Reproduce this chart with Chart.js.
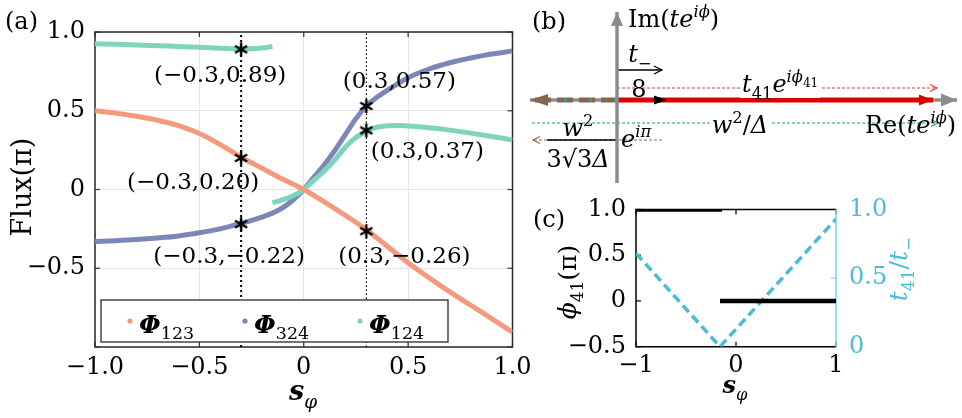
<!DOCTYPE html>
<html>
<head>
<meta charset="utf-8">
<script src="https://cdn.jsdelivr.net/npm/chart.js@4.4.1/dist/chart.umd.min.js"></script>
<style>
html, body { margin: 0; padding: 0; background: #fff; }
#wrap { position: relative; width: 962px; height: 418px; overflow: hidden; background: #fff; }
canvas { position: absolute; }
</style>
</head>
<body>
<div id="wrap">
  <canvas id="chartA" width="545" height="418" style="left:0;top:0"></canvas>
  <canvas id="chartB" width="442" height="190" style="left:520px;top:0"></canvas>
  <canvas id="chartC" width="437" height="228" style="left:525px;top:190px"></canvas>
</div>
<script>
const FONT = '"DejaVu Serif", serif';

// ---- panel (a): fluxes vs s_phi ----
const sGrid = [-1.0, -0.9, -0.8, -0.7, -0.6, -0.5, -0.4, -0.3, -0.2, -0.1, 0, 0.1, 0.2, 0.3, 0.4, 0.5, 0.6, 0.7, 0.8, 0.9, 1.0];
const phi123 = [0.50, 0.485, 0.465, 0.44, 0.405, 0.355, 0.285, 0.205, 0.135, 0.065, 0, -0.08, -0.165, -0.255, -0.36, -0.465, -0.56, -0.65, -0.735, -0.82, -0.905];
const sPhi324 = [-1.0, -0.9, -0.8, -0.7, -0.6, -0.5, -0.4, -0.3, -0.2, -0.15, -0.1, -0.05, 0, 0.05, 0.1, 0.15, 0.2, 0.25, 0.3, 0.35, 0.4, 0.5, 0.6, 0.7, 0.8, 0.9, 1.0];
const phi324 = [-0.33, -0.325, -0.318, -0.308, -0.295, -0.275, -0.25, -0.215, -0.175, -0.15, -0.115, -0.065, 0, 0.08, 0.16, 0.25, 0.35, 0.45, 0.53, 0.585, 0.63, 0.71, 0.765, 0.805, 0.835, 0.86, 0.88];
const sPhi124a = [-1.0, -0.9, -0.8, -0.7, -0.6, -0.5, -0.4, -0.3, -0.2, -0.15];
const phi124a = [0.925, 0.922, 0.918, 0.913, 0.908, 0.903, 0.897, 0.892, 0.898, 0.908];
const sPhi124b = [-0.15, -0.1, -0.05, 0, 0.05, 0.1, 0.15, 0.2, 0.25, 0.3, 0.35, 0.4, 0.45, 0.5, 0.6, 0.7, 0.8, 0.9, 1.0];
const phi124b = [-0.085, -0.065, -0.04, 0, 0.06, 0.12, 0.19, 0.27, 0.33, 0.37, 0.395, 0.405, 0.407, 0.403, 0.392, 0.377, 0.358, 0.337, 0.315];
const markS = [-0.3, -0.3, -0.3, 0.3, 0.3, 0.3];
const markV = [0.89, 0.20, -0.22, 0.53, 0.375, -0.265];
const markText = ['(−0.3,0.89)', '(−0.3,0.20)', '(−0.3,−0.22)', '(0.3,0.57)', '(0.3,0.37)', '(0.3,−0.26)'];
const cutS = [-0.3, 0.3];
const xTicksA = [-1, -0.5, 0, 0.5, 1];
const yTicksA = [-1, -0.5, 0, 0.5, 1];
const legendSubs = ['123', '324', '124'];

// ---- panel (c): phi_41 and t_41/t_- ----
const sPhi41a = [-1, -0.14];
const phi41a = [1, 1];
const sPhi41b = [-0.16, 1];
const phi41b = [0, 0];
const sRatio = [-1, -0.16, 1];
const ratio = [0.68, 0, 0.93];
const xTicksC = [-1, 0, 1];
const yTicksC = [-0.5, 0, 0.5, 1];
const y2TicksC = [0, 0.5, 1];

// ---- panel (b): complex-plane vectors [x, y] ----
const axisIm = [[0, -0.83], [0, 0.88]];
const axisRe = [[-0.87, 0], [3.40, 0]];
const vecNeg = [[0, 0], [-0.87, 0]];
const vecT41 = [[0, 0], [3.16, 0]];
const vecT8 = [[0, 0], [0.50, 0]];
const barT8 = [[0, 0.30], [0.45, 0.30]];
const vecT41Dot = [[0, 0.12], [3.20, 0.12]];
const vecW2 = [[-0.85, -0.23], [3.21, -0.23]];
const vecEpi = [[0.45, -0.40], [-0.84, -0.40]];
const barW2 = [[-0.70, -0.40], [0, -0.40]];

const ORANGE = '#f39a7c', BLUE = '#7c87b9', GREEN = '#80d3bd', CYAN = '#4bbcd6', CYAN_AX = '#7fd3e4';

const pts = (xs, ys) => xs.map((x, i) => ({ x, y: ys[i] }));
const pairPts = arr => arr.map(p => ({ x: p[0], y: p[1] }));
const fmt1 = v => v === 0 ? '0' : (v < 0 ? '−' : '') + Math.abs(v).toFixed(1);

function drawRich(ctx, parts, x, y, size, align, color, bg) {
  const segs = parts.map(p => {
    const t = p[0], f = p[1] || '';
    let sc = f.includes('_') || f.includes('^') ? 0.68 : 1;
    if (p[2]) sc = p[2];
    let dy = f.includes('_') ? size * 0.28 : (f.includes('^') ? -size * 0.42 : 0);
    if (p[3] !== undefined) dy = p[3] * size;
    const font = (f.includes('i') ? 'italic ' : '') + (f.includes('b') ? 'bold ' : '') + (size * sc) + 'px ' + FONT;
    ctx.font = font;
    return { t, font, w: ctx.measureText(t).width, dy };
  });
  const total = segs.reduce((a, s) => a + s.w, 0);
  let cx = align === 'center' ? x - total / 2 : align === 'right' ? x - total : x;
  if (bg) {
    ctx.fillStyle = '#fff';
    ctx.fillRect(cx - 2, y - size * 0.95, total + 4, size * 1.2);
  }
  ctx.fillStyle = color || '#000';
  ctx.textAlign = 'left';
  ctx.textBaseline = 'alphabetic';
  segs.forEach(s => { ctx.font = s.font; ctx.fillText(s.t, cx, y + s.dy); cx += s.w; });
  return total;
}

function drawRotated(ctx, parts, x, y, size, color) {
  ctx.save();
  ctx.translate(x, y);
  ctx.rotate(-Math.PI / 2);
  drawRich(ctx, parts, 0, 0, size, 'center', color);
  ctx.restore();
}

function starImg(r, lw) {
  const c = document.createElement('canvas');
  c.width = c.height = 2 * r + 4;
  const g = c.getContext('2d');
  g.strokeStyle = '#000';
  g.lineWidth = lw;
  const m = r + 2;
  for (let k = 0; k < 3; k++) {
    const a = Math.PI / 2 + k * Math.PI / 3;
    g.beginPath();
    g.moveTo(m + r * Math.cos(a), m + r * Math.sin(a));
    g.lineTo(m - r * Math.cos(a), m - r * Math.sin(a));
    g.stroke();
  }
  return c;
}

function innerTicks(ctx, scale, vals, edge, inward, color) {
  ctx.strokeStyle = color;
  ctx.lineWidth = 1.2;
  vals.forEach(v => {
    const p = scale.getPixelForValue(v);
    ctx.beginPath();
    if (scale.isHorizontal()) { ctx.moveTo(p, edge); ctx.lineTo(p, edge + inward); }
    else { ctx.moveTo(edge, p); ctx.lineTo(edge + inward, p); }
    ctx.stroke();
  });
}

Chart.defaults.font.family = FONT;
Chart.defaults.color = '#000';
Chart.defaults.animation = false;

// ================= panel (a) =================
const lineDs = (data, color) => ({ data, showLine: true, borderColor: color, borderWidth: 5, pointRadius: 0, cubicInterpolationMode: 'monotone', fill: false });

const panelA = {
  id: 'panelA',
  beforeDatasetsDraw(chart) {
    const { ctx, chartArea: a, scales } = chart;
    ctx.save();
    innerTicks(ctx, scales.x, xTicksA, a.bottom, -5, '#333');
    innerTicks(ctx, scales.x, xTicksA, a.top, 5, '#333');
    innerTicks(ctx, scales.y, yTicksA, a.left, 5, '#333');
    innerTicks(ctx, scales.y, yTicksA, a.right, -5, '#333');
    ctx.strokeStyle = '#2a2a2a';
    ctx.lineWidth = 1.5;
    ctx.strokeRect(a.left, a.top, a.right - a.left, a.bottom - a.top);
    ctx.restore();
  },
  afterDatasetsDraw(chart) {
    const { ctx, scales } = chart;
    ctx.save();
    const offs = [[-21, 33], [-48, 31], [-12, 39], [33, -18], [61, 28], [38, 32]];
    markText.forEach((t, i) => {
      const px = scales.x.getPixelForValue(markS[i]) + offs[i][0];
      const py = scales.y.getPixelForValue(markV[i]) + offs[i][1];
      drawRich(ctx, [[t, '']], px, py, 23, 'center', '#000');
    });
    // legend box
    ctx.fillStyle = '#fff';
    ctx.fillRect(101, 300, 347, 42);
    ctx.strokeStyle = '#2a2a2a';
    ctx.lineWidth = 1.3;
    ctx.strokeRect(101, 300, 347, 42);
    [ORANGE, BLUE, GREEN].forEach((c, i) => {
      const x0 = 130 + i * 115;
      ctx.fillStyle = c;
      ctx.beginPath(); ctx.arc(x0, 321, 2.6, 0, 2 * Math.PI); ctx.fill();
      drawRich(ctx, [['Φ', 'bi'], [legendSubs[i], '', 0.7, 0.22]], x0 + 9, 333, 25, 'left', '#000');
    });
    ctx.restore();
  },
  afterDraw(chart) {
    const ctx = chart.ctx;
    ctx.save();
    drawRich(ctx, [['(a)', '']], 5, 29, 24, 'left', '#000');
    drawRotated(ctx, [['Flux(π)', '']], 31, 187, 27, '#000');
    drawRich(ctx, [['s', 'bi'], ['φ', 'i_']], 303, 400, 27, 'center', '#000');
    ctx.restore();
  }
};

const cutDs = cutS.map((s, i) => ({
  data: [{ x: s, y: -1 }, { x: s, y: 1 }], showLine: true, borderColor: '#000',
  borderWidth: i === 0 ? 2 : 1.2, borderDash: i === 0 ? [2, 3] : [1.5, 2.5], pointRadius: 0
}));

new Chart(document.getElementById('chartA'), {
  type: 'scatter',
  data: {
    datasets: [
      { data: pts(markS, markV), pointStyle: starImg(7, 2.4), pointRadius: 6, showLine: false },
      ...cutDs,
      lineDs(pts(sGrid, phi123), ORANGE),
      lineDs(pts(sPhi124b, phi124b), GREEN),
      lineDs(pts(sPhi124a, phi124a), GREEN),
      lineDs(pts(sPhi324, phi324), BLUE)
    ]
  },
  options: {
    responsive: false,
    layout: { padding: { top: 32, right: 32.5, left: 0, bottom: 0 } },
    plugins: { legend: { display: false }, tooltip: { enabled: false } },
    scales: {
      x: {
        type: 'linear', min: -1, max: 1,
        afterBuildTicks: s => { s.ticks = xTicksA.map(v => ({ value: v })); },
        afterFit: s => { s.height = 71; },
        grid: { color: '#e4e4e4', lineWidth: 1, drawTicks: false },
        border: { display: false },
        ticks: { font: { size: 24, family: FONT }, color: '#000', padding: 6, maxRotation: 0, callback: v => fmt1(v) }
      },
      y: {
        type: 'linear', min: -1, max: 1,
        afterBuildTicks: s => { s.ticks = yTicksA.map(v => ({ value: v })); },
        afterFit: s => { s.width = 95; },
        grid: { color: '#e4e4e4', lineWidth: 1, drawTicks: false },
        border: { display: false },
        ticks: { font: { size: 24, family: FONT }, color: '#000', padding: 10, callback: v => v === -1 ? '' : fmt1(v) }
      }
    }
  },
  plugins: [panelA]
});

// ================= panel (b) =================
const vecDs = (arr, color, width, dash, head, order) => ({
  data: pairPts(arr), showLine: true, borderColor: color, borderWidth: width,
  borderDash: dash || [], pointRadius: 0, head, order: order || 0
});

const panelB = {
  id: 'panelB',
  afterDatasetsDraw(chart) {
    const ctx = chart.ctx;
    ctx.save();
    chart.data.datasets.forEach((ds, i) => {
      if (!ds.head) return;
      const d = chart.getDatasetMeta(i).data;
      const p1 = d[d.length - 2], p2 = d[d.length - 1];
      const ang = Math.atan2(p2.y - p1.y, p2.x - p1.x);
      const h = ds.head;
      ctx.save();
      ctx.translate(p2.x, p2.y);
      ctx.rotate(ang);
      ctx.setLineDash([]);
      if (h.kind === 'fill') {
        ctx.fillStyle = h.color;
        ctx.beginPath();
        ctx.moveTo(0, 0); ctx.lineTo(-h.len, -h.half); ctx.lineTo(-h.len, h.half); ctx.closePath();
        ctx.fill();
      } else {
        ctx.strokeStyle = h.color;
        ctx.lineWidth = 1.2;
        ctx.beginPath();
        ctx.moveTo(-h.len, -h.half); ctx.lineTo(0, 0); ctx.lineTo(-h.len, h.half);
        ctx.stroke();
      }
      ctx.restore();
    });
    ctx.restore();
  },
  afterDraw(chart) {
    const ctx = chart.ctx;
    const X = 520;
    ctx.save();
    drawRich(ctx, [['(b)', '']], 532 - X, 29, 24, 'left');
    drawRich(ctx, [['Im(', ''], ['t', 'i'], ['e', 'i'], ['iϕ', 'i^'], [')', '']], 628 - X, 27, 24, 'left');
    drawRich(ctx, [['t', 'i'], ['−', '_']], 640 - X, 62, 24, 'center');
    drawRich(ctx, [['8', '']], 639 - X, 97, 24, 'center');
    drawRich(ctx, [['t', 'i'], ['41', '_'], ['e', 'i'], ['iϕ', 'i^'], ['41', '', 0.5, -0.22]], 742 - X, 92, 24, 'left', '#000', true);
    drawRich(ctx, [['w', 'i'], ['2', '^'], ['/', ''], ['Δ', 'i']], 740 - X, 133, 24, 'center', '#000', true);
    drawRich(ctx, [['Re(', ''], ['t', 'i'], ['e', 'i'], ['iϕ', 'i^'], [')', '']], 865 - X, 133, 24, 'left');
    drawRich(ctx, [['w', 'i'], ['2', '^']], 578 - X, 136, 24, 'center');
    drawRich(ctx, [['3√3', ''], ['Δ', 'i']], 578 - X, 167, 24, 'center');
    drawRich(ctx, [['e', 'i'], ['iπ', 'i^']], 621 - X, 147, 24, 'left');
    ctx.restore();
  }
};

new Chart(document.getElementById('chartB'), {
  type: 'scatter',
  data: {
    datasets: [
      vecDs(axisIm, '#8c8c8c', 3.5, null, { kind: 'fill', color: '#8c8c8c', len: 14, half: 6 }, 0),
      vecDs(vecT41, '#e00000', 5, null, { kind: 'fill', color: '#e00000', len: 14, half: 5.5 }, 1),
      vecDs(vecT8, '#000', 2, null, { kind: 'fill', color: '#000', len: 13, half: 4.5 }, 2),
      vecDs(barT8, '#000', 1.3, null, { kind: 'open', color: '#000', len: 8, half: 4 }, 1),
      vecDs(vecT41Dot, '#e33', 1.2, [3, 2], { kind: 'open', color: '#e33', len: 7, half: 3.5 }, 1),
      vecDs(vecW2, '#1a9f95', 1.2, [3, 2], { kind: 'open', color: '#1a9f95', len: 7, half: 3.5 }, 1),
      vecDs(barW2, '#000', 1.3, null, null, 1),
      vecDs(vecEpi, '#8a6a52', 1.2, [3, 2], { kind: 'open', color: '#8a6a52', len: 7, half: 3.5 }, 2),
      vecDs(vecNeg, '#2aa59a', 3, [3, 22], null, 3),
      vecDs(vecNeg, '#86654c', 5, [16, 6], { kind: 'fill', color: '#86654c', len: 18, half: 6 }, 4),
      vecDs(axisRe, '#8c8c8c', 3.5, null, { kind: 'fill', color: '#8c8c8c', len: 16, half: 6.5 }, 5)
    ]
  },
  options: {
    responsive: false,
    layout: { padding: 0 },
    plugins: { legend: { display: false }, tooltip: { enabled: false } },
    scales: {
      x: { type: 'linear', display: false, min: -0.97, max: 3.45 },
      y: { type: 'linear', display: false, min: -0.9, max: 1.0 }
    }
  },
  plugins: [panelB]
});

// ================= panel (c) =================
const panelC = {
  id: 'panelC',
  beforeDatasetsDraw(chart) {
    const { ctx, chartArea: a, scales } = chart;
    ctx.save();
    innerTicks(ctx, scales.x, xTicksC, a.bottom, -5, '#000');
    innerTicks(ctx, scales.x, xTicksC, a.top, 5, '#000');
    innerTicks(ctx, scales.y, yTicksC, a.left, 5, '#000');
    innerTicks(ctx, scales.y2, y2TicksC, a.right, -5, CYAN_AX);
    ctx.lineWidth = 1.5;
    ctx.strokeStyle = '#000';
    ctx.beginPath();
    ctx.moveTo(a.right, a.top); ctx.lineTo(a.left, a.top); ctx.lineTo(a.left, a.bottom); ctx.lineTo(a.right, a.bottom);
    ctx.stroke();
    ctx.strokeStyle = CYAN_AX;
    ctx.beginPath(); ctx.moveTo(a.right, a.top); ctx.lineTo(a.right, a.bottom); ctx.stroke();
    ctx.restore();
  },
  afterDraw(chart) {
    const ctx = chart.ctx;
    const X = 525, Y = 190;
    ctx.save();
    drawRich(ctx, [['(c)', '']], 533 - X, 227 - Y, 24, 'left');
    drawRotated(ctx, [['ϕ', 'i'], ['41', '_'], ['(π)', '']], 576 - X, 282 - Y, 25, '#000');
    drawRotated(ctx, [['t', 'i'], ['41', '_'], ['/', ''], ['t', 'i'], ['−', '_']], 907 - X, 269 - Y, 25, CYAN);
    drawRich(ctx, [['s', 'bi'], ['φ', 'i_']], 735 - X, 393 - Y, 24, 'center');
    ctx.restore();
  }
};

new Chart(document.getElementById('chartC'), {
  type: 'scatter',
  data: {
    datasets: [
      { data: pts(sPhi41a, phi41a), showLine: true, borderColor: '#000', borderWidth: 4.5, pointRadius: 0, yAxisID: 'y' },
      { data: pts(sPhi41b, phi41b), showLine: true, borderColor: '#000', borderWidth: 4.5, pointRadius: 0, yAxisID: 'y' },
      { data: pts(sRatio, ratio), showLine: true, borderColor: CYAN, borderWidth: 3.5, borderDash: [9, 5], pointRadius: 0, yAxisID: 'y2' }
    ]
  },
  options: {
    responsive: false,
    layout: { padding: { top: 18.5, right: 0, left: 0, bottom: 0 } },
    plugins: { legend: { display: false }, tooltip: { enabled: false } },
    scales: {
      x: {
        type: 'linear', min: -1, max: 1,
        afterBuildTicks: s => { s.ticks = xTicksC.map(v => ({ value: v })); },
        afterFit: s => { s.height = 71.3; },
        grid: { display: false }, border: { display: false },
        ticks: { font: { size: 24, family: FONT }, color: '#000', padding: -3, maxRotation: 0, callback: v => (v < 0 ? '−' : '') + Math.abs(v) }
      },
      y: {
        type: 'linear', position: 'left', min: -0.5, max: 1,
        afterBuildTicks: s => { s.ticks = yTicksC.map(v => ({ value: v })); },
        afterFit: s => { s.width = 111; },
        grid: { display: false }, border: { display: false },
        ticks: { font: { size: 24, family: FONT }, color: '#000', padding: 2, callback: v => fmt1(v) }
      },
      y2: {
        type: 'linear', position: 'right', min: 0, max: 1,
        afterBuildTicks: s => { s.ticks = y2TicksC.map(v => ({ value: v })); },
        afterFit: s => { s.width = 126; },
        grid: { display: false }, border: { display: false },
        ticks: { font: { size: 24, family: FONT }, color: CYAN, padding: 5, callback: v => fmt1(v) }
      }
    }
  },
  plugins: [panelC]
});
</script>
</body>
</html>
